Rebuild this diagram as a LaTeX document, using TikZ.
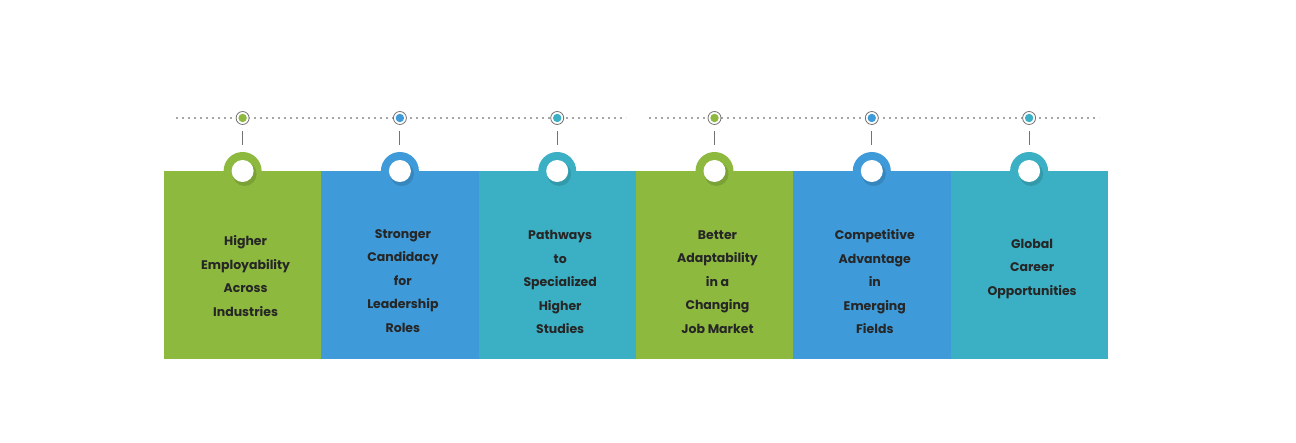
\documentclass[tikz,border=0pt]{standalone}
\usepackage{fontspec}
\setmainfont{Poppins}
\definecolor{cg}{HTML}{8DB93E}
\definecolor{cb}{HTML}{3E9AD8}
\definecolor{ct}{HTML}{3BB0C4}
\begin{document}
\begin{tikzpicture}[x=1pt,y=-1pt,
 lbl/.style={align=center,font=\bfseries\fontsize{12.5}{23.5}\selectfont,text=black!85},
 dots/.style={draw=black!35,line width=1.6pt,dash pattern=on 1.6pt off 4.4pt}]
\useasboundingbox[fill=white] (0,0) rectangle (1296,443);
\draw[dots] (176,118) -- (626,118);
\draw[dots] (649,118) -- (1099,118);
\foreach \i/\c/\t/\yy in {0/cg/{Higher\\Employability\\Across\\Industries}/276,
 1/cb/{Stronger\\Candidacy\\for\\Leadership\\Roles}/281,
 2/ct/{Pathways\\to\\Specialized\\Higher\\Studies}/282,
 3/cg/{Better\\Adaptability\\in a\\Changing\\Job Market}/282,
 4/cb/{Competitive\\Advantage\\in\\Emerging\\Fields}/282,
 5/ct/{Global\\Career\\Opportunities}/269}{
 \pgfmathsetmacro\xl{164+157.3*\i}
 \pgfmathsetmacro\xc{\xl+78.6}
 \fill[\c] (\xl,171) rectangle (\xl+157.3,359);
 \fill[\c] (\xc,171) circle[radius=19];
 \fill[black,opacity=0.12] (\xc+2,174) circle[radius=12];
 \fill[white] (\xc,171) circle[radius=11];
 \fill[white] (\xc,118) circle[radius=6.5];
 \draw[black!55,line width=0.8pt] (\xc,118) circle[radius=6.5];
 \fill[\c] (\xc,118) circle[radius=4.2];
 \draw[black!55,line width=1pt] (\xc,131) -- (\xc,145);
 \node[lbl] (t\i) at (\xc+3,\yy) {\t};
}
\end{tikzpicture}
\end{document}
